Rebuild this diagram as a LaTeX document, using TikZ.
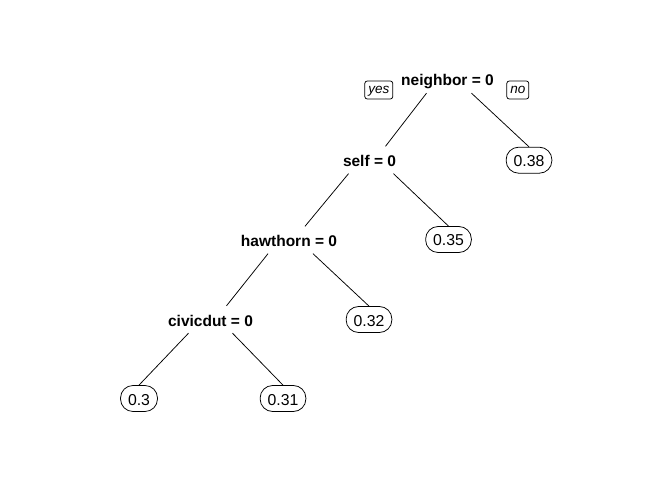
\documentclass[tikz,border=0pt]{standalone}
\usepackage{fontspec}
\setmainfont{Liberation Sans}
\begin{document}
\begin{tikzpicture}[x=1pt, y=1pt,
    split/.style={anchor=base, font=\fontsize{15.5}{18}\selectfont\bfseries, text height=16pt, text depth=3pt, inner ysep=4pt, inner xsep=0pt},
    leaf/.style={anchor=base, draw, rounded corners=12.5pt, line width=0.75pt, font=\fontsize{15.8}{18}\selectfont, text height=13pt, text depth=0pt, inner ysep=6.5pt, inner xsep=7.5pt},
    tag/.style={draw, rounded corners=2.5pt, line width=0.75pt, font=\fontsize{13.5}{16}\selectfont\itshape, text height=10pt, text depth=3pt, inner ysep=2.5pt, inner xsep=3.5pt},
    branch/.style={line width=0.75pt}]
    \fill[white] (0,0) rectangle (672,480);
    \useasboundingbox (0,0) rectangle (672,480);
    \node[split] (neighbor) at (447.5,394) {neighbor = 0};
    \node[split] (self) at (369.5,313.5) {self = 0};
    \node[split] (hawthorn) at (289,233.5) {hawthorn = 0};
    \node[split] (civicdut) at (210.5,154) {civicdut = 0};
    \node[leaf] (l38) at (529,313.3) {0.38};
    \node[leaf] (l35) at (448.5,234) {0.35};
    \node[leaf] (l32) at (369,154) {0.32};
    \node[leaf] (l30) at (139,75) {0.3};
    \node[leaf] (l31) at (283,75) {0.31};
    \node[tag] (yes) at (378.8,390) {yes};
    \node[tag] (no) at (517.8,390) {no};
    \draw[branch] ([xshift=-21pt]neighbor.south) -- ([xshift=16pt]self.north);
    \draw[branch] ([xshift=24pt]neighbor.south) -- (l38.north);
    \draw[branch] ([xshift=-21pt]self.south) -- ([xshift=16pt]hawthorn.north);
    \draw[branch] ([xshift=24pt]self.south) -- (l35.north);
    \draw[branch] ([xshift=-21pt]hawthorn.south) -- ([xshift=16pt]civicdut.north);
    \draw[branch] ([xshift=24pt]hawthorn.south) -- (l32.north);
    \draw[branch] ([xshift=-22pt]civicdut.south) -- (l30.north);
    \draw[branch] ([xshift=22pt]civicdut.south) -- (l31.north);
\end{tikzpicture}
\end{document}
